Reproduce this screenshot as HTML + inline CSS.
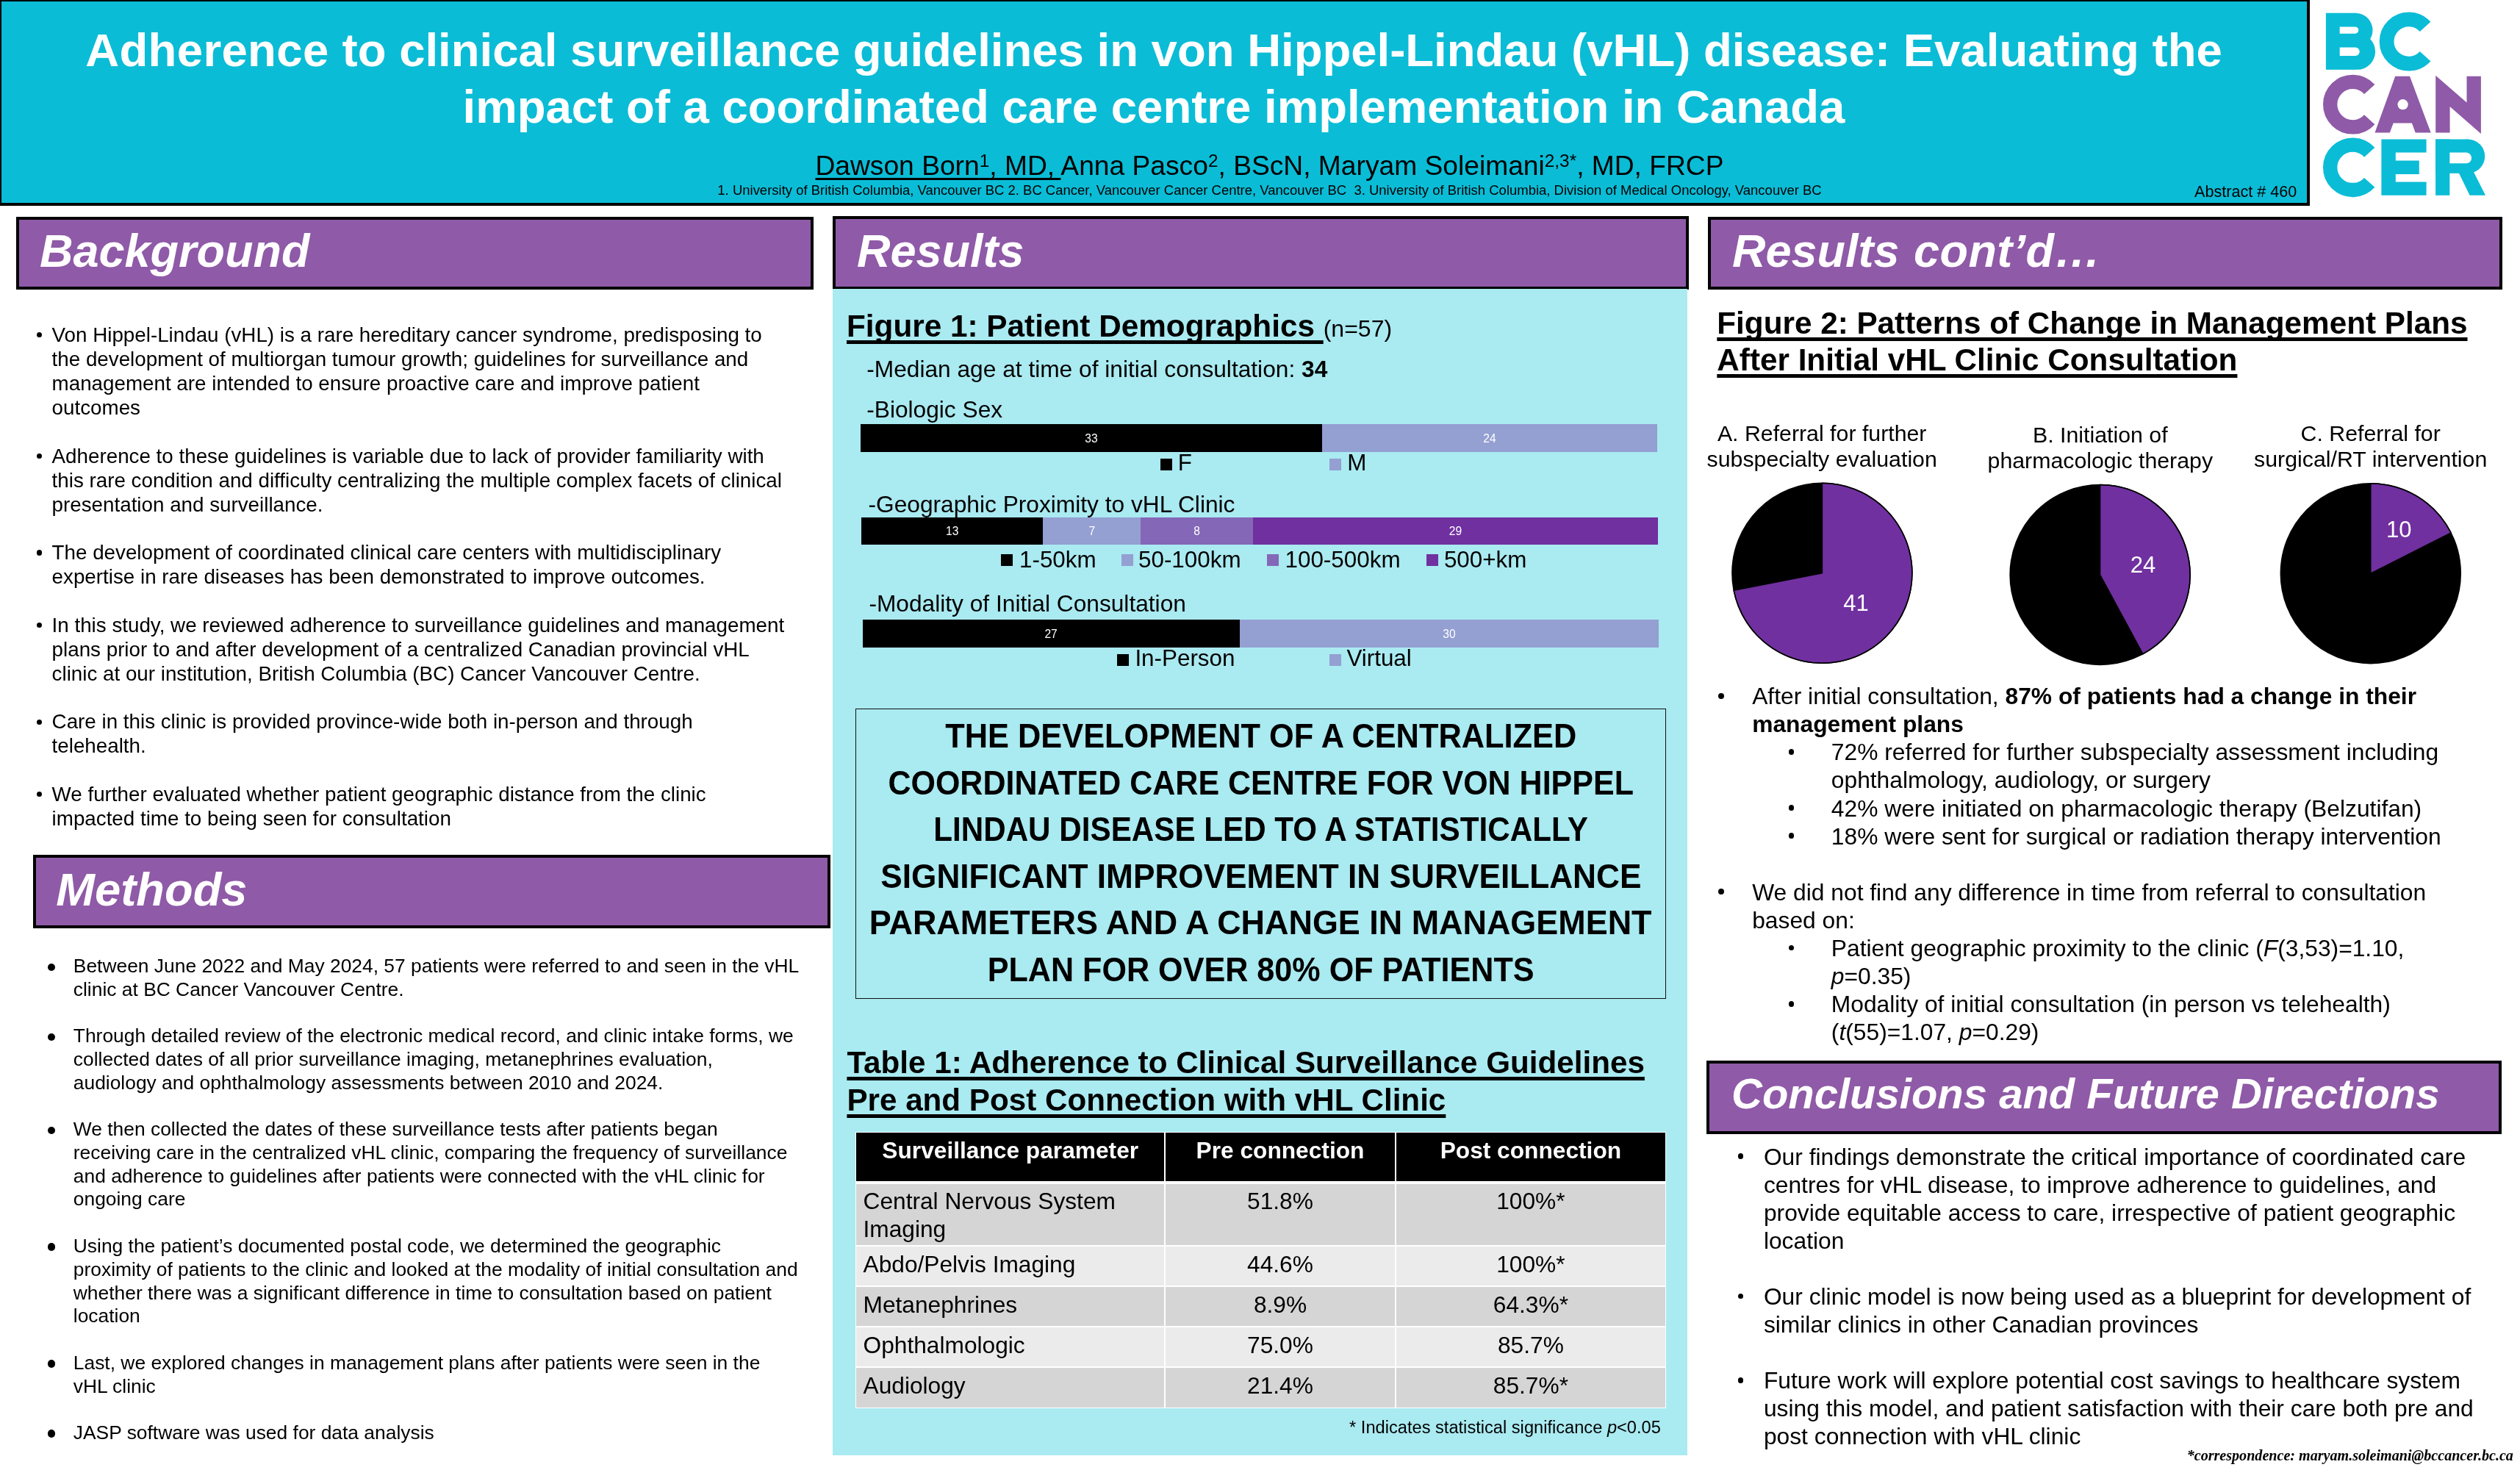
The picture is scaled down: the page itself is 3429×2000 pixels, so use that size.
<!DOCTYPE html>
<html><head><meta charset="utf-8"><title>Poster</title>
<style>
html,body{margin:0;padding:0;background:#fff;}
body{width:3429px;height:2000px;position:relative;overflow:hidden;will-change:transform;font-family:"Liberation Sans",sans-serif;color:#000;}
.t{position:absolute;white-space:nowrap;margin:0;padding:0;}
.bx{position:absolute;}
.dot{position:absolute;border-radius:50%;}
.c{text-align:center;}
.w{color:#fff;}
.bi{font-weight:bold;font-style:italic;}
.b{font-weight:bold;}
.u{text-decoration:underline;text-decoration-thickness:4.5px;text-underline-offset:4.8px;text-decoration-skip-ink:none;}
sup{font-size:65.5%;vertical-align:baseline;position:relative;top:-0.467em;line-height:0;}
svg{position:absolute;left:0;top:0;}
</style></head><body>

<div class="bx" style="left:-2px;top:-2px;width:3136.5px;height:274px;background:#0BBCD6;border:4px solid #000"></div>
<div class="t c w b" style="left:0.00px;top:30.00px;font-size:63.5px;line-height:77.2px;width:3140px;"><span style="letter-spacing:0.35px">Adherence </span>to clinical surveillance guidelines in von Hippel-Lindau (vHL) disease: Evaluating the<br>impact of a coordinated care centre implementation in Canada</div>
<div class="t c" style="left:0.00px;top:203.00px;font-size:37.2px;line-height:44px;width:3455px;"><span class="u" style="text-decoration-thickness:2.6px;text-underline-offset:4.2px">Dawson Born<sup>1</sup>, MD, </span>Anna Pasco<sup>2</sup>, BScN, Maryam Soleimani<sup>2,3*</sup>, MD, FRCP</div>
<div class="t c" style="left:0.00px;top:248.00px;font-size:18.49px;line-height:22px;width:3455px;">1. University of British Columbia, Vancouver BC 2. BC Cancer, Vancouver Cancer Centre, Vancouver BC&nbsp; 3. University of British Columbia, Division of Medical Oncology, Vancouver BC</div>
<div class="t " style="left:2986.00px;top:249.00px;font-size:21.6px;line-height:24px;">Abstract # 460</div>
<svg width="3429" height="2000" viewBox="0 0 3429 2000">
<rect x="3164.9" y="17.7" width="40.2" height="77.1" fill="#0BBCD6"/>
<circle cx="3205.1" cy="41.1" r="23.4" fill="#0BBCD6"/>
<circle cx="3207.5" cy="70.2" r="24.6" fill="#0BBCD6"/>
<path d="M3183.7,36.5 H3204.7 a4.6,4.6 0 0 1 0,9.2 H3183.7 Z" fill="#fff"/>
<path d="M3183.7,64.5 H3205.0 a5.7,5.7 0 0 1 0,11.4 H3183.7 Z" fill="#fff"/>
<path d="M3300.07,36.36 A30.10,30.10 0 1 0 3300.07,76.64" fill="none" stroke="#0BBCD6" stroke-width="19.8"/>
<path d="M3224.24,121.54 A30.73,30.73 0 1 0 3224.24,162.66" fill="none" stroke="#8F5AA7" stroke-width="19.34"/>
<path d="M3231.5,180.6 L3259.2,103.7 L3279.0,103.7 L3307.7,180.6 L3286.7,180.6 L3281.9,167.4 L3256.7,167.4 L3251.8,180.6 Z" fill="#8F5AA7"/>
<circle cx="3269.6" cy="142.2" r="7.1" fill="#fff"/>
<path d="M3314.2,102.8 L3356.5,139.6 L3356.5,103.7 L3375.9,103.7 L3375.9,181.9 L3333.6,145.1 L3333.6,180.6 L3314.2,180.6 Z" fill="#8F5AA7"/>
<path d="M3224.24,207.24 A30.73,30.73 0 1 0 3224.24,248.36" fill="none" stroke="#0BBCD6" stroke-width="19.34"/>
<path d="M3240.4,189.5 H3301.6 V207.6 H3259.8 V218.4 H3291.8 V237 H3259.8 V247.4 H3301.6 V265.8 H3240.4 Z" fill="#0BBCD6"/>
<rect x="3314.1" y="189.5" width="44" height="46.3" fill="#0BBCD6"/>
<rect x="3314.1" y="189.5" width="19.2" height="76.3" fill="#0BBCD6"/>
<circle cx="3358.1" cy="212.7" r="23.1" fill="#0BBCD6"/>
<path d="M3344.7,233 L3365.5,233 L3382,265.8 L3360.6,265.8 Z" fill="#0BBCD6"/>
<path d="M3333.3,207.6 H3355.7 a7.35,7.35 0 0 1 0,14.7 H3333.3 Z" fill="#fff"/>
</svg>
<div class="bx" style="left:22px;top:295px;width:1077px;height:91px;background:#8F5AA7;border:4px solid #000"></div>
<div class="t w bi" style="left:54.00px;top:306.00px;font-size:63px;line-height:70px;">Background</div>
<div class="bx" style="left:1133px;top:294px;width:1156.5px;height:92px;background:#8F5AA7;border:4px solid #000"></div>
<div class="t w bi" style="left:1166.00px;top:306.00px;font-size:63px;line-height:70px;">Results</div>
<div class="bx" style="left:2324px;top:295px;width:1073px;height:91px;background:#8F5AA7;border:4px solid #000"></div>
<div class="t w bi" style="left:2357.00px;top:306.00px;font-size:63px;line-height:70px;word-spacing:2px;">Results <span style="letter-spacing:0.4px">cont’d…</span></div>
<div class="bx" style="left:44.5px;top:1163px;width:1077px;height:91.5px;background:#8F5AA7;border:4px solid #000"></div>
<div class="t w bi" style="left:76.30px;top:1175.00px;font-size:63.3px;line-height:70px;">Methods</div>
<div class="bx" style="left:2321.5px;top:1443px;width:1074px;height:92px;background:#8F5AA7;border:4px solid #000"></div>
<div class="t w bi" style="left:2356.00px;top:1456.00px;font-size:58px;line-height:64px;">Conclusions and Future Directions</div>
<div class="bx" style="left:1133px;top:393px;width:1163px;height:1587px;background:#AAEAF1"></div>
<div class="t " style="left:70.60px;top:439.00px;font-size:27.78px;line-height:33.1px;">Von Hippel-Lindau (vHL) is a rare hereditary cancer syndrome, predisposing to<br>the development of multiorgan tumour growth; guidelines for surveillance and<br>management are intended to ensure proactive care and improve patient<br>outcomes</div>
<div class="dot" style="left:49.85px;top:452.10px;width:7.3px;height:7.3px;background:#000"></div>
<div class="t " style="left:70.60px;top:604.00px;font-size:27.78px;line-height:33.1px;">Adherence to these guidelines is variable due to lack of provider familiarity with<br>this rare condition and difficulty centralizing the multiple complex facets of clinical<br>presentation and surveillance.</div>
<div class="dot" style="left:49.85px;top:616.80px;width:7.3px;height:7.3px;background:#000"></div>
<div class="t " style="left:70.60px;top:735.00px;font-size:27.78px;line-height:33.1px;">The development of coordinated clinical care centers with multidisciplinary<br>expertise in rare diseases has been demonstrated to improve outcomes.</div>
<div class="dot" style="left:49.85px;top:748.40px;width:7.3px;height:7.3px;background:#000"></div>
<div class="t " style="left:70.60px;top:834.00px;font-size:27.78px;line-height:33.1px;">In this study, we reviewed adherence to surveillance guidelines and management<br>plans prior to and after development of a centralized Canadian provincial vHL<br>clinic at our institution, British Columbia (BC) Cancer Vancouver Centre.</div>
<div class="dot" style="left:49.85px;top:846.90px;width:7.3px;height:7.3px;background:#000"></div>
<div class="t " style="left:70.60px;top:965.00px;font-size:27.78px;line-height:33.1px;">Care in this clinic is provided province-wide both in-person and through<br>telehealth.</div>
<div class="dot" style="left:49.85px;top:978.50px;width:7.3px;height:7.3px;background:#000"></div>
<div class="t " style="left:70.60px;top:1064.00px;font-size:27.78px;line-height:33.1px;">We further evaluated whether patient geographic distance from the clinic<br>impacted time to being seen for consultation</div>
<div class="dot" style="left:49.85px;top:1077.00px;width:7.3px;height:7.3px;background:#000"></div>
<div class="t " style="left:99.80px;top:1299.00px;font-size:26.4px;line-height:31.8px;">Between June 2022 and May 2024, 57 patients were referred to and seen in the vHL<br>clinic at BC Cancer Vancouver Centre.</div>
<div class="dot" style="left:64.50px;top:1310.55px;width:10.6px;height:10.6px;background:#000"></div>
<div class="t " style="left:99.80px;top:1394.00px;font-size:26.4px;line-height:31.8px;">Through detailed review of the electronic medical record, and clinic intake forms, we<br>collected dates of all prior surveillance imaging, metanephrines evaluation,<br>audiology and ophthalmology assessments between 2010 and 2024.</div>
<div class="dot" style="left:64.50px;top:1405.70px;width:10.6px;height:10.6px;background:#000"></div>
<div class="t " style="left:99.80px;top:1521.00px;font-size:26.4px;line-height:31.8px;">We then collected the dates of these surveillance tests after patients began<br>receiving care in the centralized vHL clinic, comparing the frequency of surveillance<br>and adherence to guidelines after patients were connected with the vHL clinic for<br>ongoing care</div>
<div class="dot" style="left:64.50px;top:1532.65px;width:10.6px;height:10.6px;background:#000"></div>
<div class="t " style="left:99.80px;top:1680.00px;font-size:26.4px;line-height:31.8px;">Using the patient’s documented postal code, we determined the geographic<br>proximity of patients to the clinic and looked at the modality of initial consultation and<br>whether there was a significant difference in time to consultation based on patient<br>location</div>
<div class="dot" style="left:64.50px;top:1691.40px;width:10.6px;height:10.6px;background:#000"></div>
<div class="t " style="left:99.80px;top:1839.00px;font-size:26.4px;line-height:31.8px;">Last, we explored changes in management plans after patients were seen in the<br>vHL clinic</div>
<div class="dot" style="left:64.50px;top:1850.15px;width:10.6px;height:10.6px;background:#000"></div>
<div class="t " style="left:99.80px;top:1934.00px;font-size:26.4px;line-height:31.8px;">JASP software was used for data analysis</div>
<div class="dot" style="left:64.50px;top:1945.30px;width:10.6px;height:10.6px;background:#000"></div>
<div class="t " style="left:1152.00px;top:419.00px;font-size:42.3px;line-height:50px;"><span class="u b">Figure 1: Patient Demographics </span><span style="font-size:32px">(n=57)</span></div>
<div class="t " style="left:1179.20px;top:483.00px;font-size:31.7px;line-height:38px;">-Median age at time of initial consultation: <b>34</b></div>
<div class="t " style="left:1179.20px;top:538.00px;font-size:31.7px;line-height:38px;">-Biologic Sex</div>
<div class="t " style="left:1181.50px;top:667.00px;font-size:31.7px;line-height:38px;">-Geographic Proximity to vHL Clinic</div>
<div class="t " style="left:1182.40px;top:802.00px;font-size:31.7px;line-height:38px;">-Modality of Initial Consultation</div>
<div class="bx" style="left:1171.20px;top:577.30px;width:627.88px;height:37.50px;background:#000"></div>
<div class="t c w" style="left:1434.99px;top:588.00px;font-size:15.6px;line-height:18px;width:100px;">33</div>
<div class="bx" style="left:1798.78px;top:577.30px;width:456.72px;height:37.50px;background:#949FD2"></div>
<div class="t c w" style="left:1976.99px;top:588.00px;font-size:15.6px;line-height:18px;width:100px;">24</div>
<div class="bx" style="left:1172.10px;top:703.70px;width:247.55px;height:37.50px;background:#000"></div>
<div class="t c w" style="left:1245.73px;top:714.00px;font-size:15.6px;line-height:18px;width:100px;">13</div>
<div class="bx" style="left:1419.35px;top:703.70px;width:133.44px;height:37.50px;background:#949FD2"></div>
<div class="t c w" style="left:1435.92px;top:714.00px;font-size:15.6px;line-height:18px;width:100px;">7</div>
<div class="bx" style="left:1552.49px;top:703.70px;width:152.45px;height:37.50px;background:#8467B7"></div>
<div class="t c w" style="left:1578.56px;top:714.00px;font-size:15.6px;line-height:18px;width:100px;">8</div>
<div class="bx" style="left:1704.64px;top:703.70px;width:551.86px;height:37.50px;background:#7030A0"></div>
<div class="t c w" style="left:1930.42px;top:714.00px;font-size:15.6px;line-height:18px;width:100px;">29</div>
<div class="bx" style="left:1173.50px;top:843.30px;width:513.58px;height:37.50px;background:#000"></div>
<div class="t c w" style="left:1380.14px;top:854.00px;font-size:15.6px;line-height:18px;width:100px;">27</div>
<div class="bx" style="left:1686.78px;top:843.30px;width:570.62px;height:37.50px;background:#949FD2"></div>
<div class="t c w" style="left:1921.94px;top:854.00px;font-size:15.6px;line-height:18px;width:100px;">30</div>
<div class="bx" style="left:1578.60px;top:624.10px;width:16px;height:15.5px;background:#000"></div>
<div class="t " style="left:1602.80px;top:612.00px;font-size:31.4px;line-height:36px;">F</div>
<div class="bx" style="left:1809.00px;top:624.10px;width:16px;height:15.5px;background:#949FD2"></div>
<div class="t " style="left:1833.30px;top:612.00px;font-size:31.4px;line-height:36px;">M</div>
<div class="bx" style="left:1361.80px;top:754.30px;width:16px;height:15.5px;background:#000"></div>
<div class="t " style="left:1387.00px;top:744.00px;font-size:31.4px;line-height:36px;">1-50km</div>
<div class="bx" style="left:1525.70px;top:754.30px;width:16px;height:15.5px;background:#949FD2"></div>
<div class="t " style="left:1549.00px;top:744.00px;font-size:31.4px;line-height:36px;">50-100km</div>
<div class="bx" style="left:1723.70px;top:754.30px;width:16px;height:15.5px;background:#8467B7"></div>
<div class="t " style="left:1748.50px;top:744.00px;font-size:31.4px;line-height:36px;">100-500km</div>
<div class="bx" style="left:1941.00px;top:754.30px;width:16px;height:15.5px;background:#7030A0"></div>
<div class="t " style="left:1964.90px;top:744.00px;font-size:31.4px;line-height:36px;">500+km</div>
<div class="bx" style="left:1520.00px;top:890.00px;width:16px;height:15.5px;background:#000"></div>
<div class="t " style="left:1544.40px;top:878.00px;font-size:31.4px;line-height:36px;">In-Person</div>
<div class="bx" style="left:1809.00px;top:890.00px;width:16px;height:15.5px;background:#949FD2"></div>
<div class="t " style="left:1832.40px;top:878.00px;font-size:31.4px;line-height:36px;">Virtual</div>
<div class="bx" style="left:1164.2px;top:964.3px;width:1101.2px;height:392.4px;border:1.3px solid #111"></div>
<div class="t c b" style="left:915.60px;top:971.00px;font-size:46px;line-height:60px;width:1600px;"><span class="st" style="display:inline-block;transform:scaleX(0.9424);transform-origin:50% 50%">THE DEVELOPMENT OF A CENTRALIZED</span></div>
<div class="t c b" style="left:915.60px;top:1035.00px;font-size:46px;line-height:60px;width:1600px;"><span class="st" style="display:inline-block;transform:scaleX(0.9348);transform-origin:50% 50%">COORDINATED CARE CENTRE FOR VON HIPPEL</span></div>
<div class="t c b" style="left:915.60px;top:1098.00px;font-size:46px;line-height:60px;width:1600px;"><span class="st" style="display:inline-block;transform:scaleX(0.9172);transform-origin:50% 50%">LINDAU DISEASE LED TO A STATISTICALLY</span></div>
<div class="t c b" style="left:915.60px;top:1162.00px;font-size:46px;line-height:60px;width:1600px;"><span class="st" style="display:inline-block;transform:scaleX(0.9605);transform-origin:50% 50%">SIGNIFICANT IMPROVEMENT IN SURVEILLANCE</span></div>
<div class="t c b" style="left:915.60px;top:1225.00px;font-size:46px;line-height:60px;width:1600px;"><span class="st" style="display:inline-block;transform:scaleX(0.9764);transform-origin:50% 50%">PARAMETERS AND A CHANGE IN MANAGEMENT</span></div>
<div class="t c b" style="left:915.60px;top:1289.00px;font-size:46px;line-height:60px;width:1600px;"><span class="st" style="display:inline-block;transform:scaleX(0.9379);transform-origin:50% 50%">PLAN FOR OVER 80% OF PATIENTS</span></div>
<div class="t " style="left:1152.40px;top:1421.00px;font-size:42.2px;line-height:50.6px;"><span class="u b">Table 1: Adherence to Clinical Surveillance Guidelines<br>Pre and Post Connection with vHL Clinic</span></div>
<div class="bx" style="left:1164.1px;top:1540.1px;width:1103.1px;height:375.60000000000014px;background:#fff"></div>
<div class="bx" style="left:1165.10px;top:1541.10px;width:419.30px;height:66.30px;background:#000"></div>
<div class="bx" style="left:1585.80px;top:1541.10px;width:312.40px;height:66.30px;background:#000"></div>
<div class="bx" style="left:1899.60px;top:1541.10px;width:366.60px;height:66.30px;background:#000"></div>
<div class="bx" style="left:1165.10px;top:1611.00px;width:419.30px;height:83.20px;background:#D5D5D5"></div>
<div class="bx" style="left:1585.80px;top:1611.00px;width:312.40px;height:83.20px;background:#D5D5D5"></div>
<div class="bx" style="left:1899.60px;top:1611.00px;width:366.60px;height:83.20px;background:#D5D5D5"></div>
<div class="bx" style="left:1165.10px;top:1696.10px;width:419.30px;height:53.30px;background:#EBEBEB"></div>
<div class="bx" style="left:1585.80px;top:1696.10px;width:312.40px;height:53.30px;background:#EBEBEB"></div>
<div class="bx" style="left:1899.60px;top:1696.10px;width:366.60px;height:53.30px;background:#EBEBEB"></div>
<div class="bx" style="left:1165.10px;top:1751.30px;width:419.30px;height:52.90px;background:#D5D5D5"></div>
<div class="bx" style="left:1585.80px;top:1751.30px;width:312.40px;height:52.90px;background:#D5D5D5"></div>
<div class="bx" style="left:1899.60px;top:1751.30px;width:366.60px;height:52.90px;background:#D5D5D5"></div>
<div class="bx" style="left:1165.10px;top:1806.10px;width:419.30px;height:53.40px;background:#EBEBEB"></div>
<div class="bx" style="left:1585.80px;top:1806.10px;width:312.40px;height:53.40px;background:#EBEBEB"></div>
<div class="bx" style="left:1899.60px;top:1806.10px;width:366.60px;height:53.40px;background:#EBEBEB"></div>
<div class="bx" style="left:1165.10px;top:1861.40px;width:419.30px;height:53.30px;background:#D5D5D5"></div>
<div class="bx" style="left:1585.80px;top:1861.40px;width:312.40px;height:53.30px;background:#D5D5D5"></div>
<div class="bx" style="left:1899.60px;top:1861.40px;width:366.60px;height:53.30px;background:#D5D5D5"></div>
<div class="t c w b" style="left:1165.10px;top:1546.00px;font-size:31.7px;line-height:38px;width:419.30px;">Surveillance parameter</div>
<div class="t c w b" style="left:1585.80px;top:1546.00px;font-size:31.7px;line-height:38px;width:312.40px;">Pre connection</div>
<div class="t c w b" style="left:1899.60px;top:1546.00px;font-size:31.7px;line-height:38px;width:366.60px;">Post connection</div>
<div class="t " style="left:1174.50px;top:1615.00px;font-size:31.7px;line-height:38px;">Central Nervous System<br>Imaging</div>
<div class="t c" style="left:1585.80px;top:1615.00px;font-size:31.7px;line-height:38px;width:312.40px;">51.8%</div>
<div class="t c" style="left:1899.60px;top:1615.00px;font-size:31.7px;line-height:38px;width:366.60px;">100%*</div>
<div class="t " style="left:1174.50px;top:1701.00px;font-size:31.7px;line-height:38px;">Abdo/Pelvis Imaging</div>
<div class="t c" style="left:1585.80px;top:1701.00px;font-size:31.7px;line-height:38px;width:312.40px;">44.6%</div>
<div class="t c" style="left:1899.60px;top:1701.00px;font-size:31.7px;line-height:38px;width:366.60px;">100%*</div>
<div class="t " style="left:1174.50px;top:1756.00px;font-size:31.7px;line-height:38px;">Metanephrines</div>
<div class="t c" style="left:1585.80px;top:1756.00px;font-size:31.7px;line-height:38px;width:312.40px;">8.9%</div>
<div class="t c" style="left:1899.60px;top:1756.00px;font-size:31.7px;line-height:38px;width:366.60px;">64.3%*</div>
<div class="t " style="left:1174.50px;top:1811.00px;font-size:31.7px;line-height:38px;">Ophthalmologic</div>
<div class="t c" style="left:1585.80px;top:1811.00px;font-size:31.7px;line-height:38px;width:312.40px;">75.0%</div>
<div class="t c" style="left:1899.60px;top:1811.00px;font-size:31.7px;line-height:38px;width:366.60px;">85.7%</div>
<div class="t " style="left:1174.50px;top:1866.00px;font-size:31.7px;line-height:38px;">Audiology</div>
<div class="t c" style="left:1585.80px;top:1866.00px;font-size:31.7px;line-height:38px;width:312.40px;">21.4%</div>
<div class="t c" style="left:1899.60px;top:1866.00px;font-size:31.7px;line-height:38px;width:366.60px;">85.7%*</div>
<div class="t " style="left:1659.90px;top:1928.00px;font-size:23.65px;line-height:28px;width:600px;text-align:right;">* Indicates statistical significance <i>p</i>&lt;0.05</div>
<div class="t " style="left:2336.30px;top:415.00px;font-size:42.25px;line-height:49.6px;"><span class="u b">Figure 2: Patterns of Change in Management Plans<br>After Initial vHL Clinic Consultation</span></div>
<div class="t c" style="left:2179.20px;top:572.00px;font-size:30.3px;line-height:35px;width:600px;">A. Referral for further<br>subspecialty evaluation</div>
<div class="t c" style="left:2557.80px;top:574.00px;font-size:30.3px;line-height:35px;width:600px;">B. Initiation of<br>pharmacologic therapy</div>
<div class="t c" style="left:2925.70px;top:572.00px;font-size:30.3px;line-height:35px;width:600px;">C. Referral for<br>surgical/RT intervention</div>
<svg width="3429" height="2000" viewBox="0 0 3429 2000"><circle cx="2479.4" cy="779.8" r="122.5" fill="#000"/><path d="M2479.4,779.8 L2479.4,657.3 A122.5,122.5 0 1 1 2359.17,803.28 Z" fill="#7030A0" stroke="#000" stroke-width="1.5" stroke-linejoin="round"/><circle cx="2479.4" cy="779.8" r="122.5" fill="none" stroke="#000" stroke-width="1.5"/><circle cx="2857.6" cy="782" r="122.5" fill="#000"/><path d="M2857.6,782 L2857.6,659.5 A122.5,122.5 0 0 1 2915.90,889.74 Z" fill="#7030A0" stroke="#000" stroke-width="1.5" stroke-linejoin="round"/><circle cx="2857.6" cy="782" r="122.5" fill="none" stroke="#000" stroke-width="1.5"/><circle cx="3225.8" cy="780.2" r="122.5" fill="#000"/><path d="M3225.8,780.2 L3225.8,657.7 A122.5,122.5 0 0 1 3335.10,724.89 Z" fill="#7030A0" stroke="#000" stroke-width="1.5" stroke-linejoin="round"/><circle cx="3225.8" cy="780.2" r="122.5" fill="none" stroke="#000" stroke-width="1.5"/></svg>
<div class="t c w" style="left:2475.40px;top:803.00px;font-size:31px;line-height:36px;width:100px;">41</div>
<div class="t c w" style="left:2866.00px;top:751.00px;font-size:31px;line-height:36px;width:100px;">24</div>
<div class="t c w" style="left:3214.20px;top:703.00px;font-size:31px;line-height:36px;width:100px;">10</div>
<div class="t " style="left:2384.20px;top:928.00px;font-size:31.78px;line-height:38.08px;">After initial consultation, <b>87% of patients had a change in their<br>management plans</b></div>
<div class="dot" style="left:2337.81px;top:942.87px;width:7.7861px;height:7.7861px;background:#000"></div>
<div class="t " style="left:2491.80px;top:1004.00px;font-size:31.78px;line-height:38.08px;">72% referred for further subspecialty assessment including<br>ophthalmology, audiology, or surgery</div>
<div class="dot" style="left:2433.61px;top:1019.03px;width:7.7861px;height:7.7861px;background:#000"></div>
<div class="t " style="left:2491.80px;top:1081.00px;font-size:31.78px;line-height:38.08px;">42% were initiated on pharmacologic therapy (Belzutifan)</div>
<div class="dot" style="left:2433.61px;top:1095.19px;width:7.7861px;height:7.7861px;background:#000"></div>
<div class="t " style="left:2491.80px;top:1119.00px;font-size:31.78px;line-height:38.08px;">18% were sent for surgical or radiation therapy intervention</div>
<div class="dot" style="left:2433.61px;top:1133.27px;width:7.7861px;height:7.7861px;background:#000"></div>
<div class="t " style="left:2384.20px;top:1195.00px;font-size:31.78px;line-height:38.08px;">We did not find any difference in time from referral to consultation<br>based on:</div>
<div class="dot" style="left:2337.81px;top:1209.43px;width:7.7861px;height:7.7861px;background:#000"></div>
<div class="t " style="left:2491.80px;top:1271.00px;font-size:31.78px;line-height:38.08px;">Patient geographic proximity to the clinic (<i>F</i>(3,53)=1.10,<br><i>p</i>=0.35)</div>
<div class="dot" style="left:2433.61px;top:1285.59px;width:7.7861px;height:7.7861px;background:#000"></div>
<div class="t " style="left:2491.80px;top:1347.00px;font-size:31.78px;line-height:38.08px;">Modality of initial consultation (in person vs telehealth)<br>(<i>t</i>(55)=1.07, <i>p</i>=0.29)</div>
<div class="dot" style="left:2433.61px;top:1361.75px;width:7.7861px;height:7.7861px;background:#000"></div>
<div class="t " style="left:2399.90px;top:1555.00px;font-size:31.78px;line-height:38.08px;">Our findings demonstrate the critical importance of coordinated care<br>centres for vHL disease, to improve adherence to guidelines, and<br>provide equitable access to care, irrespective of patient geographic<br>location</div>
<div class="dot" style="left:2364.61px;top:1569.27px;width:7.7861px;height:7.7861px;background:#000"></div>
<div class="t " style="left:2399.90px;top:1745.00px;font-size:31.78px;line-height:38.08px;">Our clinic model is now being used as a blueprint for development of<br>similar clinics in other Canadian provinces</div>
<div class="dot" style="left:2364.61px;top:1759.67px;width:7.7861px;height:7.7861px;background:#000"></div>
<div class="t " style="left:2399.90px;top:1859.00px;font-size:31.78px;line-height:38.08px;">Future work will explore potential cost savings to healthcare system<br>using this model, and patient satisfaction with their care both pre and<br>post connection with vHL clinic</div>
<div class="dot" style="left:2364.61px;top:1873.91px;width:7.7861px;height:7.7861px;background:#000"></div>
<div class="t bi" style="left:2975.70px;top:1968.00px;font-size:20.1px;line-height:24px;font-family:'Liberation Serif',serif;">*correspondence: maryam.soleimani@bccancer.bc.ca</div>
</body></html>
